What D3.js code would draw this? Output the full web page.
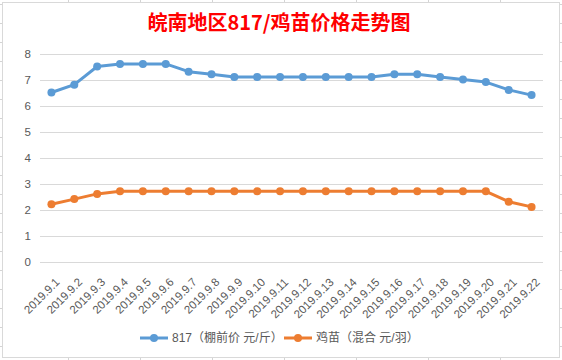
<!DOCTYPE html>
<html><head><meta charset="utf-8">
<script src="https://cdn.jsdelivr.net/npm/d3@7"></script>
<style>
html,body{margin:0;padding:0;background:#fff;}
svg{display:block;}
text{font-family:"Liberation Sans","Noto Sans CJK SC",sans-serif;}
</style></head>
<body>
<svg id="c" width="562" height="360"></svg>
<script>
const categories = ["2019.9.1","2019.9.2","2019.9.3","2019.9.4","2019.9.5","2019.9.6","2019.9.7","2019.9.8","2019.9.9","2019.9.10","2019.9.11","2019.9.12","2019.9.13","2019.9.14","2019.9.15","2019.9.16","2019.9.17","2019.9.18","2019.9.19","2019.9.20","2019.9.21","2019.9.22"];
const price817 = [6.5,6.8,7.5,7.6,7.6,7.6,7.3,7.2,7.1,7.1,7.1,7.1,7.1,7.1,7.1,7.2,7.2,7.1,7.0,6.9,6.6,6.4];
const chickPrice = [2.2,2.4,2.6,2.7,2.7,2.7,2.7,2.7,2.7,2.7,2.7,2.7,2.7,2.7,2.7,2.7,2.7,2.7,2.7,2.7,2.3,2.1];
const yTicks = [0,1,2,3,4,5,6,7,8];
const seriesNames = ["817（棚前价 元/斤）","鸡苗（混合 元/羽）"];
const title = "皖南地区817/鸡苗价格走势图";

const svg = d3.select("#c");
// spreadsheet background grid
const g0 = svg.append("g");
d3.range(4, 360, 19).forEach(y => g0.append("line").attr("x1",0).attr("x2",562).attr("y1",y+0.5).attr("y2",y+0.5).attr("stroke","#d4d4d4"));
d3.range(68, 562, 72).forEach(x => g0.append("line").attr("y1",0).attr("y2",360).attr("x1",x+0.5).attr("x2",x+0.5).attr("stroke","#d4d4d4"));
// chart area
svg.append("rect").attr("x",2.5).attr("y",2.5).attr("width",557).attr("height",355)
  .attr("fill","#fff").attr("stroke","#d9d9d9");

const colors = ["#5b9bd5","#ed7d31"];
const x = d3.scaleBand().domain(categories).range([40,543]);
const y = d3.scaleLinear().domain([0,8]).range([261.5,53.5]);

// gridlines
svg.append("g").selectAll("line").data(yTicks).join("line")
  .attr("x1",40).attr("x2",543).attr("y1",d=>Math.round(y(d))+0.5).attr("y2",d=>Math.round(y(d))+0.5)
  .attr("stroke","#d9d9d9").attr("stroke-width",1);

// y labels
svg.append("g").selectAll("text").data(yTicks).join("text")
  .attr("x",31).attr("y",d=>y(d)).attr("dy","0.35em").attr("text-anchor","end")
  .attr("font-size",11.5).attr("fill","#595959").text(d=>d);

// x labels
svg.append("g").selectAll("text").data(categories).join("text")
  .attr("transform",d=>`translate(${x(d)+x.bandwidth()/2+6},${280}) rotate(-45)`)
  .attr("dy","0.35em").attr("text-anchor","end")
  .attr("font-size",11.5).attr("fill","#595959").text(d=>d);

// series
[price817, chickPrice].forEach((vals,i)=>{
  const line = d3.line().x((d,j)=>x(categories[j])+x.bandwidth()/2).y(d=>y(d));
  svg.append("path").datum(vals).attr("d",line).attr("fill","none")
    .attr("stroke",colors[i]).attr("stroke-width",3).attr("stroke-linejoin","round");
  svg.append("g").selectAll("circle").data(vals).join("circle")
    .attr("cx",(d,j)=>x(categories[j])+x.bandwidth()/2).attr("cy",d=>y(d)).attr("r",4)
    .attr("fill",colors[i]);
});

// title
svg.append("text").attr("x",279).attr("y",30).attr("text-anchor","middle")
  .attr("font-size",20).attr("font-weight","bold").attr("fill","#ff0000")
  .style("font-family","'Noto Sans CJK SC',sans-serif").text(title);

// legend
const legX = [140, 284];
seriesNames.forEach((n,i)=>{
  const lg = svg.append("g").attr("transform",`translate(${legX[i]},338)`);
  lg.append("line").attr("x1",0).attr("x2",28).attr("y1",0).attr("y2",0).attr("stroke",colors[i]).attr("stroke-width",3);
  lg.append("circle").attr("cx",14).attr("cy",0).attr("r",4).attr("fill",colors[i]);
  lg.append("text").attr("x",32).attr("y",0).attr("dy","0.35em").attr("font-size",12).attr("fill","#595959").text(n);
});
</script>
</body></html>
